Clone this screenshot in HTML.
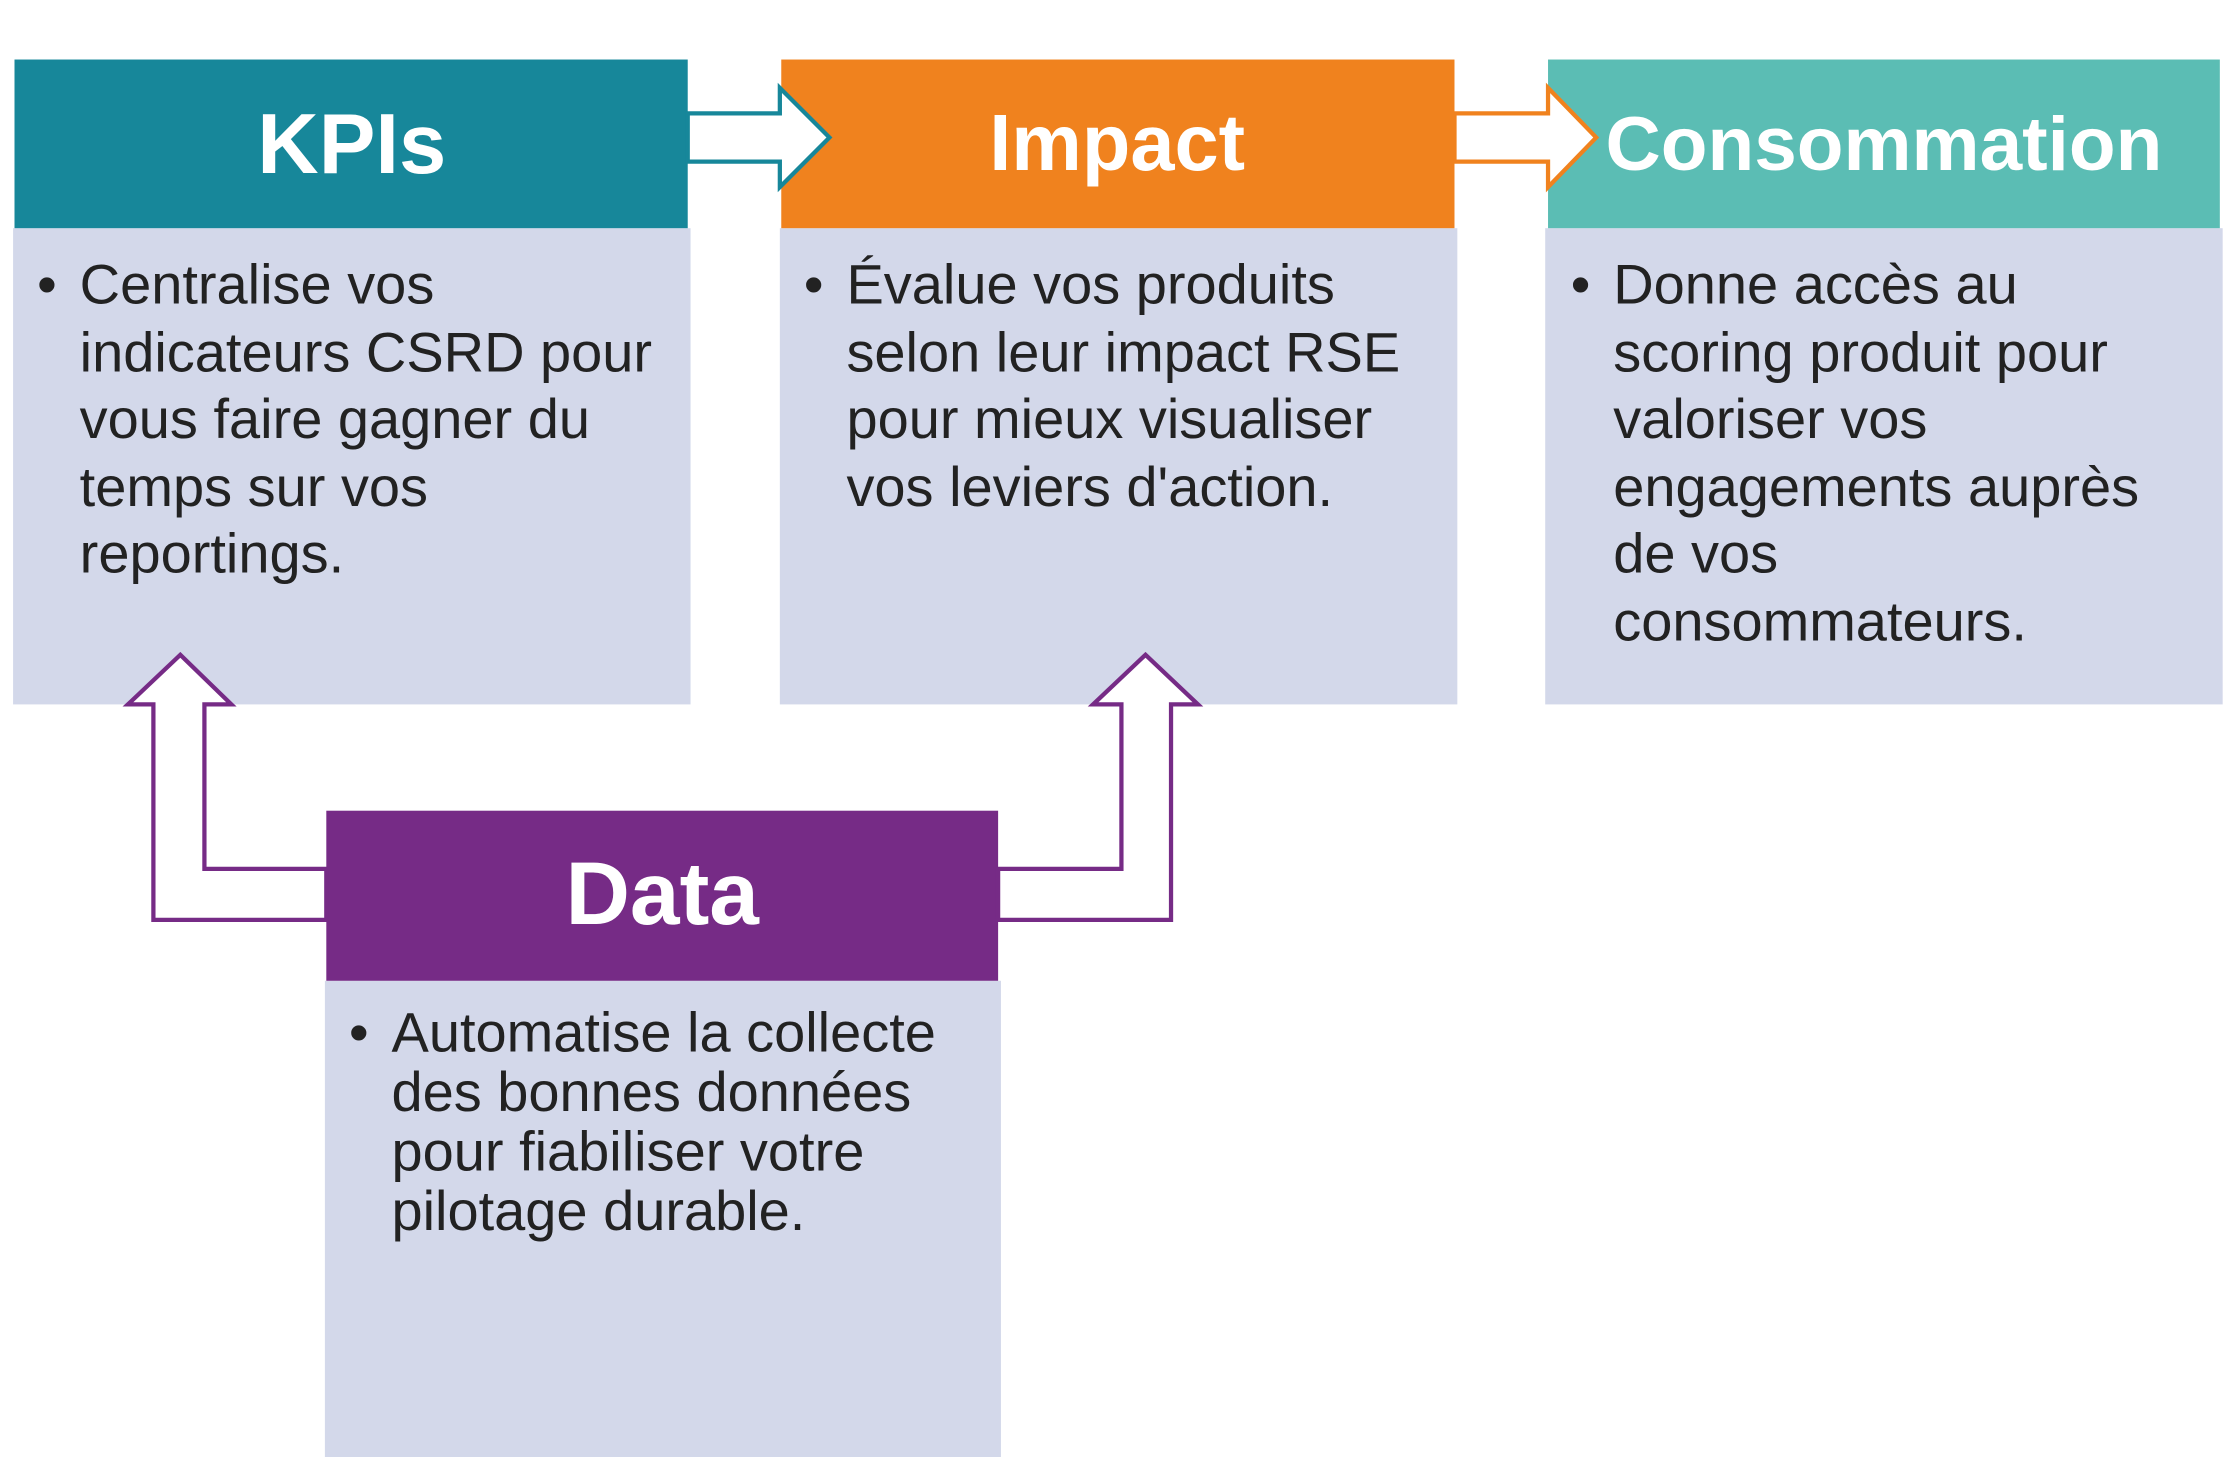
<!DOCTYPE html>
<html><head><meta charset="utf-8"><style>
html,body{margin:0;padding:0;background:#fff;}
svg{display:block;}
text{font-family:"Liberation Sans","DejaVu Sans",sans-serif;}
.h{font-weight:bold;font-size:57px;fill:#fff;text-anchor:middle;}
.b{font-size:39.5px;fill:#222;}
</style></head><body>
<svg width="2223" height="1457" viewBox="0 0 1568 1028" xmlns="http://www.w3.org/2000/svg">
<rect width="1568" height="1028" fill="#fff"/>
<rect x="9" y="161" width="478" height="336" fill="#d3d8ea"/>
<rect x="550" y="161" width="478" height="336" fill="#d3d8ea"/>
<rect x="1090" y="161" width="478" height="336" fill="#d3d8ea"/>
<rect x="229" y="692" width="477" height="336" fill="#d3d8ea"/>
<rect x="10" y="42" width="475" height="119" fill="#17879a"/>
<rect x="551" y="42" width="475" height="119" fill="#f0821e"/>
<rect x="1092" y="42" width="474" height="119" fill="#5bbdb4"/>
<rect x="230" y="572" width="474" height="120" fill="#762b86"/>
<text class="h" x="248" y="122" style="font-size:60px">KPIs</text>
<text class="h" x="788" y="120" style="font-size:56px">Impact</text>
<text class="h" x="1329" y="120" style="font-size:54px">Consommation</text>
<text class="h" x="467" y="652" style="font-size:63px">Data</text>
<polygon points="485,80 550,80 550,62 585,97 550,132 550,114 485,114" fill="#fff" stroke="#17879a" stroke-width="3"/>
<polygon points="1026,80 1092,80 1092,62 1126,97 1092,132 1092,114 1026,114" fill="#fff" stroke="#f0821e" stroke-width="3"/>
<polygon points="230,613 144,613 144,497 163,497 127,462 90,497 108,497 108,649 230,649" fill="#fff" stroke="#762b86" stroke-width="3"/>
<polygon points="704,613 791,613 791,497 771,497 808,462 845,497 826,497 826,649 704,649" fill="#fff" stroke="#762b86" stroke-width="3"/>
<g class="b">
<text x="26" y="214">•</text>
<text x="56" y="214">Centralise vos</text>
<text x="56" y="262">indicateurs CSRD pour</text>
<text x="56" y="309">vous faire gagner du</text>
<text x="56" y="357">temps sur vos</text>
<text x="56" y="404">reportings.</text>

<text x="567" y="214">•</text>
<text x="597" y="214">Évalue vos produits</text>
<text x="597" y="262">selon leur impact RSE</text>
<text x="597" y="309">pour mieux visualiser</text>
<text x="597" y="357">vos leviers d'action.</text>

<text x="1108" y="214">•</text>
<text x="1138" y="214">Donne accès au</text>
<text x="1138" y="262">scoring produit pour</text>
<text x="1138" y="309">valoriser vos</text>
<text x="1138" y="357">engagements auprès</text>
<text x="1138" y="404">de vos</text>
<text x="1138" y="452">consommateurs.</text>

<text x="246" y="742">•</text>
<text x="276" y="742">Automatise la collecte</text>
<text x="276" y="784">des bonnes données</text>
<text x="276" y="826">pour fiabiliser votre</text>
<text x="276" y="868">pilotage durable.</text>
</g>
</svg>
</body></html>
